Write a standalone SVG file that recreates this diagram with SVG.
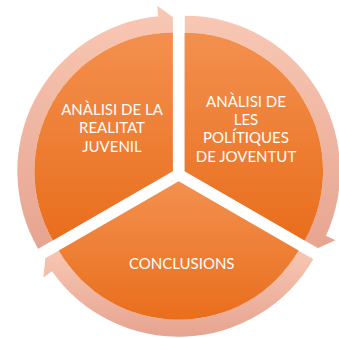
<svg xmlns="http://www.w3.org/2000/svg" width="339" height="338" viewBox="0 0 339 338">
  <defs>
    <linearGradient id="pieGrad" x1="0" y1="0" x2="0" y2="1">
      <stop offset="0" stop-color="#F3904F"/>
      <stop offset="1" stop-color="#E96E1C"/>
    </linearGradient>
    <linearGradient id="ringGrad" x1="0" y1="0" x2="0" y2="1">
      <stop offset="0" stop-color="#F8C8B4"/>
      <stop offset="1" stop-color="#E6A490"/>
    </linearGradient>
    <clipPath id="clipLeft"><path d="M172.85 171.125 L-0.35 271.125 A200 200 0 0 1 172.85 -28.875 Z"/></clipPath>
    <clipPath id="clipBottom"><path d="M178.7 181.25 L351.9 281.25 A200 200 0 0 1 5.5 281.25 Z"/></clipPath>
    <clipPath id="clipRight"><path d="M184.55 171.125 L184.55 -28.875 A200 200 0 0 1 357.75 271.125 Z"/></clipPath>
  </defs>
  <style>
    .pie { fill: url(#pieGrad); }
    .ring { fill: url(#ringGrad); }
    .lbl { font-family: Lato, "Open Sans", "Liberation Sans", sans-serif; font-size: 15px; fill: #FFFFFF; text-anchor: middle; }
  </style>

  <g id="connectors">
    <path class="ring" clip-path="url(#clipLeft)" d="M38.18 248.875 A155.5 155.5 0 0 1 158.22 16.31 L157.23 5.86 L182.98 24.47 L160.80 43.69 L159.82 33.24 A138.5 138.5 0 0 0 52.91 240.375 Z"/>
    <path class="ring" clip-path="url(#clipRight)" d="M184.55 15.625 A155.5 155.5 0 0 1 325.94 235.86 L335.48 240.23 L306.49 253.22 L300.93 224.41 L310.48 228.78 A138.5 138.5 0 0 0 184.55 32.625 Z"/>
    <path class="ring" clip-path="url(#clipBottom)" d="M313.37 259.0 A155.5 155.5 0 0 1 51.95 271.33 L43.39 277.41 L46.63 245.81 L74.36 255.40 L65.80 261.48 A138.5 138.5 0 0 0 298.64 250.5 Z"/>
  </g>

  <g id="node-realitat">
    <path class="pie" d="M172.85 171.125 L52.91 240.375 A138.5 138.5 0 0 1 172.85 32.625 Z"/>
    <text class="lbl" x="112" y="115">ANÀLISI DE LA</text>
    <text class="lbl" x="112" y="133.3">REALITAT</text>
    <text class="lbl" x="112" y="151.7">JUVENIL</text>
  </g>

  <g id="node-politiques">
    <path class="pie" d="M184.55 171.125 L184.55 32.625 A138.5 138.5 0 0 1 304.49 240.375 Z"/>
    <text class="lbl" x="246" y="106.5">ANÀLISI DE</text>
    <text class="lbl" x="246" y="125">LES</text>
    <text class="lbl" x="246" y="143.3">POLÍTIQUES</text>
    <text class="lbl" x="246" y="161.6">DE JOVENTUT</text>
  </g>

  <g id="node-conclusions">
    <path class="pie" d="M178.7 181.25 L298.64 250.5 A138.5 138.5 0 0 1 58.76 250.5 Z"/>
    <text class="lbl" x="181.7" y="269.3">CONCLUSIONS</text>
  </g>
</svg>
